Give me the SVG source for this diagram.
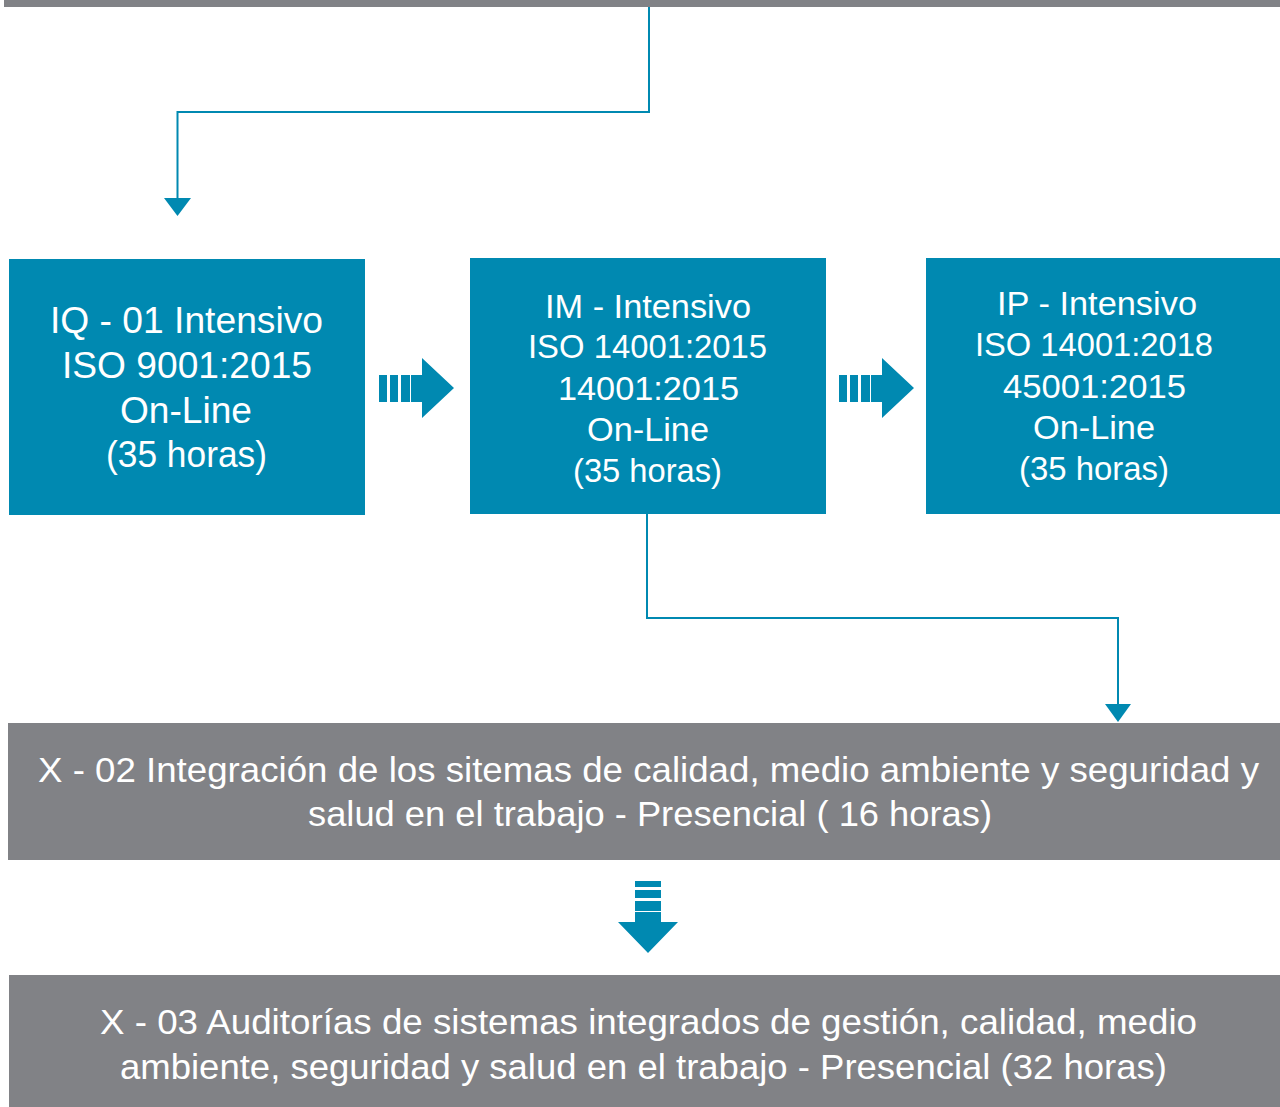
<svg xmlns="http://www.w3.org/2000/svg" width="1280" height="1107" viewBox="0 0 1280 1107">
<style>
.teal{fill:#0089B1}
.gray{fill:#818286}
.t{font-family:"Liberation Sans",Arial,sans-serif;fill:#ffffff;text-anchor:start}
.c{fill:none;stroke:#0089B1;stroke-width:2}
</style>
<defs>
<g id="rarrow">
<rect x="0" y="17" width="8" height="27" class="teal"/>
<rect x="11" y="17" width="8" height="27" class="teal"/>
<rect x="22" y="17" width="9" height="27" class="teal"/>
<polygon points="32,17 43,17 43,0 75,30 43,60 43,44 32,44" class="teal"/>
</g>
</defs>
<rect x="4" y="0" width="1276" height="7" class="gray"/>
<g id="connectors">
<polyline class="c" points="649,7 649,112 177.5,112 177.5,199"/>
<polygon class="teal" points="164,198 191,198 177.5,216"/>
<polyline class="c" points="647,514 647,618 1118,618 1118,705"/>
<polygon class="teal" points="1105,704 1131,704 1118,722"/>
<use href="#rarrow" x="379" y="358"/>
<use href="#rarrow" x="839" y="358"/>
<rect x="635" y="881" width="26" height="6" class="teal"/>
<rect x="635" y="890" width="26" height="8" class="teal"/>
<rect x="635" y="901" width="26" height="10" class="teal"/>
<polygon class="teal" points="635,912 661,912 661,922 678,922 648,953 618,922 635,922"/>
</g>
<g id="node-iq01">
<rect x="9" y="259" width="356" height="256" class="teal"/>
<text class="t" font-size="37">
<tspan x="50" y="333" textLength="273" lengthAdjust="spacingAndGlyphs">IQ - 01 Intensivo</tspan>
<tspan x="62" y="378" textLength="250" lengthAdjust="spacingAndGlyphs">ISO 9001:2015</tspan>
<tspan x="120" y="423" textLength="132" lengthAdjust="spacingAndGlyphs">On-Line</tspan>
<tspan x="106" y="467" textLength="161" lengthAdjust="spacingAndGlyphs">(35 horas)</tspan>
</text>
</g>
<g id="node-im">
<rect x="470" y="258" width="356" height="256" class="teal"/>
<text class="t" font-size="34">
<tspan x="545" y="318" textLength="206" lengthAdjust="spacingAndGlyphs">IM - Intensivo</tspan>
<tspan x="528" y="358" textLength="239" lengthAdjust="spacingAndGlyphs">ISO 14001:2015</tspan>
<tspan x="558" y="400" textLength="181" lengthAdjust="spacingAndGlyphs">14001:2015</tspan>
<tspan x="587" y="441" textLength="122" lengthAdjust="spacingAndGlyphs">On-Line</tspan>
<tspan x="573" y="482" textLength="149" lengthAdjust="spacingAndGlyphs">(35 horas)</tspan>
</text>
</g>
<g id="node-ip">
<rect x="926" y="258" width="354" height="256" class="teal"/>
<text class="t" font-size="34">
<tspan x="997" y="315" textLength="200" lengthAdjust="spacingAndGlyphs">IP - Intensivo</tspan>
<tspan x="975" y="356" textLength="238" lengthAdjust="spacingAndGlyphs">ISO 14001:2018</tspan>
<tspan x="1003" y="398" textLength="183" lengthAdjust="spacingAndGlyphs">45001:2015</tspan>
<tspan x="1033" y="439" textLength="122" lengthAdjust="spacingAndGlyphs">On-Line</tspan>
<tspan x="1019" y="480" textLength="150" lengthAdjust="spacingAndGlyphs">(35 horas)</tspan>
</text>
</g>
<g id="node-x02">
<rect x="8" y="723" width="1272" height="137" class="gray"/>
<text class="t" font-size="35">
<tspan x="38" y="782" textLength="1221" lengthAdjust="spacingAndGlyphs">X - 02 Integración de los sitemas de calidad, medio ambiente y seguridad y</tspan>
<tspan x="308" y="826" textLength="684" lengthAdjust="spacingAndGlyphs">salud en el trabajo - Presencial ( 16 horas)</tspan>
</text>
</g>
<g id="node-x03">
<rect x="9" y="975" width="1271" height="132" class="gray"/>
<text class="t" font-size="35">
<tspan x="100" y="1034" textLength="1097" lengthAdjust="spacingAndGlyphs">X - 03 Auditorías de sistemas integrados de gestión, calidad, medio</tspan>
<tspan x="120" y="1079" textLength="1047" lengthAdjust="spacingAndGlyphs">ambiente, seguridad y salud en el trabajo - Presencial (32 horas)</tspan>
</text>
</g>
</svg>
